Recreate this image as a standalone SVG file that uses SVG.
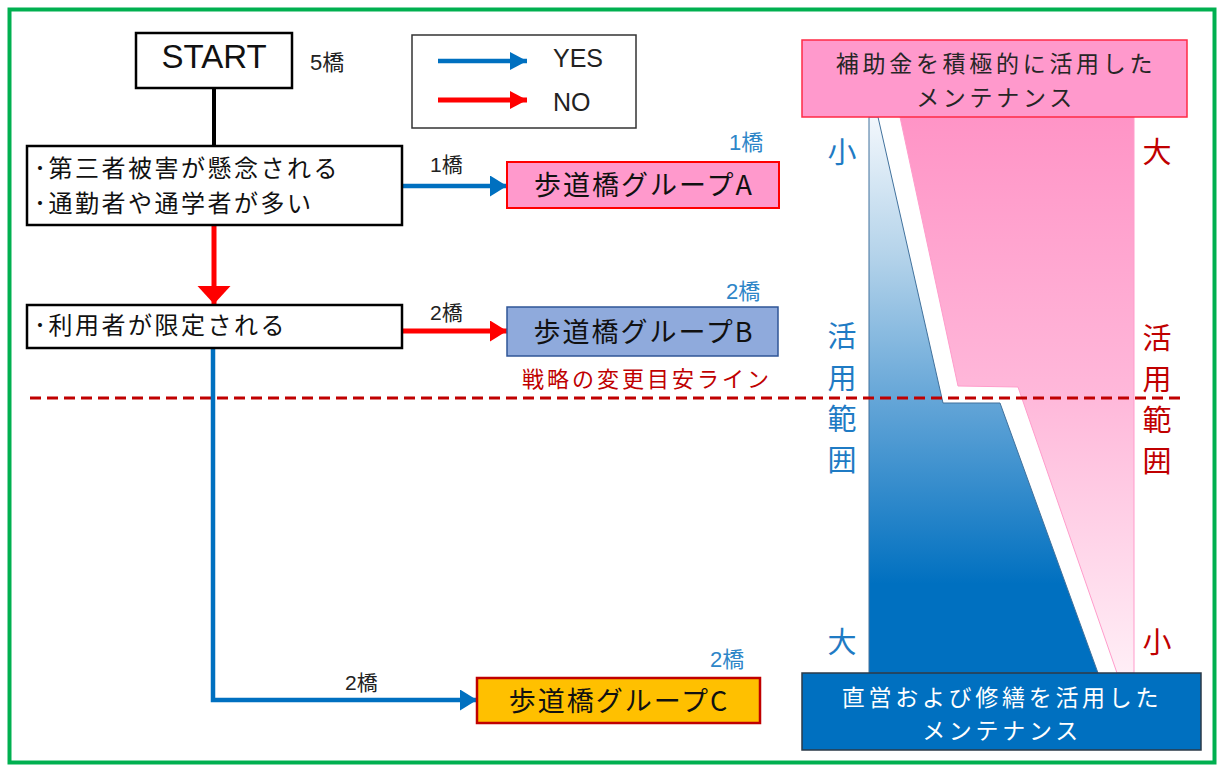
<svg xmlns="http://www.w3.org/2000/svg" width="1219" height="765" viewBox="0 0 1219 765">
<style>
.jp{font-family:"Noto Sans CJK JP","Noto Sans CJK SC",sans-serif;}
.lat{font-family:"Liberation Sans","Noto Sans CJK JP",sans-serif;}
.box{fill:#fff;stroke:#000;stroke-width:2.5;}
.cond{font-size:24px;letter-spacing:2.5px;fill:#111;}
.grp{font-size:27px;letter-spacing:2px;fill:#111;text-anchor:middle;}
.cnt{font-size:21px;fill:#222;}
.bcnt{font-size:22px;fill:#2E86C8;}
.vb{font-size:29px;fill:#1F7BC4;text-anchor:middle;}
.vr{font-size:29px;fill:#C00000;text-anchor:middle;}
.mt{font-size:23px;letter-spacing:3.7px;text-anchor:middle;}
.blue{stroke:#0070C0;stroke-width:4.5;fill:none;}
.red{stroke:#FF0000;stroke-width:5;fill:none;}
</style>
<defs>
<marker id="ahBlue" markerUnits="userSpaceOnUse" markerWidth="18" markerHeight="22" refX="17" refY="10.5" orient="auto"><path d="M0,0 L17,10.5 L0,21 Z" fill="#0070C0"/></marker>
<marker id="ahRed" markerUnits="userSpaceOnUse" markerWidth="18" markerHeight="22" refX="17" refY="10.5" orient="auto"><path d="M0,0 L17,10.5 L0,21 Z" fill="#FF0000"/></marker>
<marker id="ahRedBig" markerUnits="userSpaceOnUse" markerWidth="19" markerHeight="34" refX="18" refY="16.5" orient="auto"><path d="M0,0 L18,16.5 L0,33 Z" fill="#FF0000"/></marker>
<marker id="ahBlueS" markerUnits="userSpaceOnUse" markerWidth="18" markerHeight="19" refX="17" refY="9" orient="auto"><path d="M0,0 L17,9 L0,18 Z" fill="#0070C0"/></marker>
<marker id="ahRedS" markerUnits="userSpaceOnUse" markerWidth="18" markerHeight="19" refX="17" refY="9" orient="auto"><path d="M0,0 L17,9 L0,18 Z" fill="#FF0000"/></marker>
<linearGradient id="gBlue" gradientUnits="userSpaceOnUse" x1="0" y1="117" x2="0" y2="673">
<stop offset="0" stop-color="#F2F7FC"/>
<stop offset="0.25" stop-color="#B4D3EA"/>
<stop offset="0.5" stop-color="#67A7D8"/>
<stop offset="0.84" stop-color="#0070C0"/>
<stop offset="1" stop-color="#0070C0"/>
</linearGradient>
<linearGradient id="gPink" gradientUnits="userSpaceOnUse" x1="0" y1="117" x2="0" y2="673">
<stop offset="0" stop-color="#FF94C6"/>
<stop offset="0.5" stop-color="#FFB8DA"/>
<stop offset="1" stop-color="#FFEEF6"/>
</linearGradient>
</defs>
<rect x="0" y="0" width="1219" height="765" fill="#fff"/>
<rect id="frame" x="9.5" y="9.5" width="1205" height="753" fill="none" stroke="#00B050" stroke-width="4"/>

<g id="chart">
<polygon points="900,117 958,386 1018,387 1117,673 1134,673 1134,117" fill="url(#gPink)" stroke="#FF9CCB" stroke-width="1"/>
<polygon points="869,117 878,117 943,403 1000,403 1098,673 869,673" fill="url(#gBlue)" stroke="#41719C" stroke-width="1"/>
<text class="jp vb" x="842" y="163" font-size="28">小</text>
<text class="jp vb" x="842" y="347">活</text>
<text class="jp vb" x="842" y="389">用</text>
<text class="jp vb" x="842" y="430">範</text>
<text class="jp vb" x="842" y="471">囲</text>
<text class="jp vb" x="842" y="653" font-size="28">大</text>
<text class="jp vr" x="1157" y="163" font-size="28">大</text>
<text class="jp vr" x="1157" y="349">活</text>
<text class="jp vr" x="1157" y="390">用</text>
<text class="jp vr" x="1157" y="431">範</text>
<text class="jp vr" x="1157" y="472">囲</text>
<text class="jp vr" x="1157" y="653" font-size="28">小</text>
</g>

<g id="maint-subsidy">
<rect x="802" y="40" width="385" height="77" fill="#FF99CC" stroke="#FF2A45" stroke-width="1.5"/>
<text class="jp mt" x="996" y="72" fill="#262626">補助金を積極的に活用した</text>
<text class="jp mt" x="996" y="105.5" fill="#262626">メンテナンス</text>
</g>

<g id="maint-direct">
<rect x="802" y="673" width="399" height="77" fill="#0070C0" stroke="#2B3A48" stroke-width="1.5"/>
<text class="jp mt" x="1002" y="705.5" fill="#fff">直営および修繕を活用した</text>
<text class="jp mt" x="1002" y="739" fill="#fff">メンテナンス</text>
</g>

<g id="strategy-line">
<line x1="30" y1="398" x2="1186" y2="398" stroke="#C00000" stroke-width="3" stroke-dasharray="11,6"/>
<text class="jp" x="522" y="387" font-size="22" fill="#C00000" letter-spacing="3">戦略の変更目安ライン</text>
</g>

<g id="connectors">
<line x1="214" y1="88" x2="214" y2="146" stroke="#000" stroke-width="4"/>
<line class="red" x1="214" y1="225" x2="214" y2="304" marker-end="url(#ahRedBig)"/>
<line class="blue" x1="402" y1="186" x2="507" y2="186" marker-end="url(#ahBlue)"/>
<line class="red" x1="402" y1="331" x2="507" y2="331" marker-end="url(#ahRed)"/>
<polyline class="blue" points="213,348 213,700 477,700" marker-end="url(#ahBlue)"/>
<text class="lat cnt" x="430" y="172">1橋</text>
<text class="lat cnt" x="430" y="320">2橋</text>
<text class="lat cnt" x="345" y="690">2橋</text>
</g>

<g id="start">
<rect class="box" x="136" y="33" width="156" height="55" stroke-width="3"/>
<text class="lat" x="214" y="68" font-size="33" fill="#111" text-anchor="middle">START</text>
<text class="lat" x="310" y="70" font-size="22" fill="#222">5橋</text>
</g>

<g id="cond1">
<rect class="box" x="27" y="146" width="375" height="79"/>
<text class="jp cond" x="34" y="177">･第三者被害が懸念される</text>
<text class="jp cond" x="34" y="212">･通勤者や通学者が多い</text>
</g>

<g id="cond2">
<rect class="box" x="27" y="305" width="375" height="43"/>
<text class="jp cond" x="34" y="334">･利用者が限定される</text>
</g>

<g id="legend">
<rect x="412" y="35" width="224" height="93" fill="#fff" stroke="#333" stroke-width="1.5"/>
<line class="blue" x1="438" y1="61" x2="527" y2="61" stroke-width="5" marker-end="url(#ahBlueS)"/>
<line class="red" x1="438" y1="100" x2="527" y2="100" marker-end="url(#ahRedS)"/>
<text class="lat" x="553" y="67" font-size="25" fill="#222">YES</text>
<text class="lat" x="553" y="111" font-size="25" fill="#222">NO</text>
</g>

<g id="groupA">
<rect x="507" y="162" width="272" height="46" fill="#FF99CC" stroke="#FF0000" stroke-width="2"/>
<text class="jp grp" x="644" y="195">歩道橋グループA</text>
<text class="lat bcnt" x="729" y="150">1橋</text>
</g>

<g id="groupB">
<rect x="507" y="307" width="271" height="49" fill="#8FAADC" stroke="#2F5597" stroke-width="1.5"/>
<text class="jp grp" x="644" y="342">歩道橋グループB</text>
<text class="lat bcnt" x="726" y="299">2橋</text>
</g>

<g id="groupC">
<rect x="477" y="678" width="283" height="45" fill="#FFC000" stroke="#C00000" stroke-width="2.5"/>
<text class="jp grp" x="619" y="711">歩道橋グループC</text>
<text class="lat bcnt" x="710" y="667">2橋</text>
</g>
</svg>
